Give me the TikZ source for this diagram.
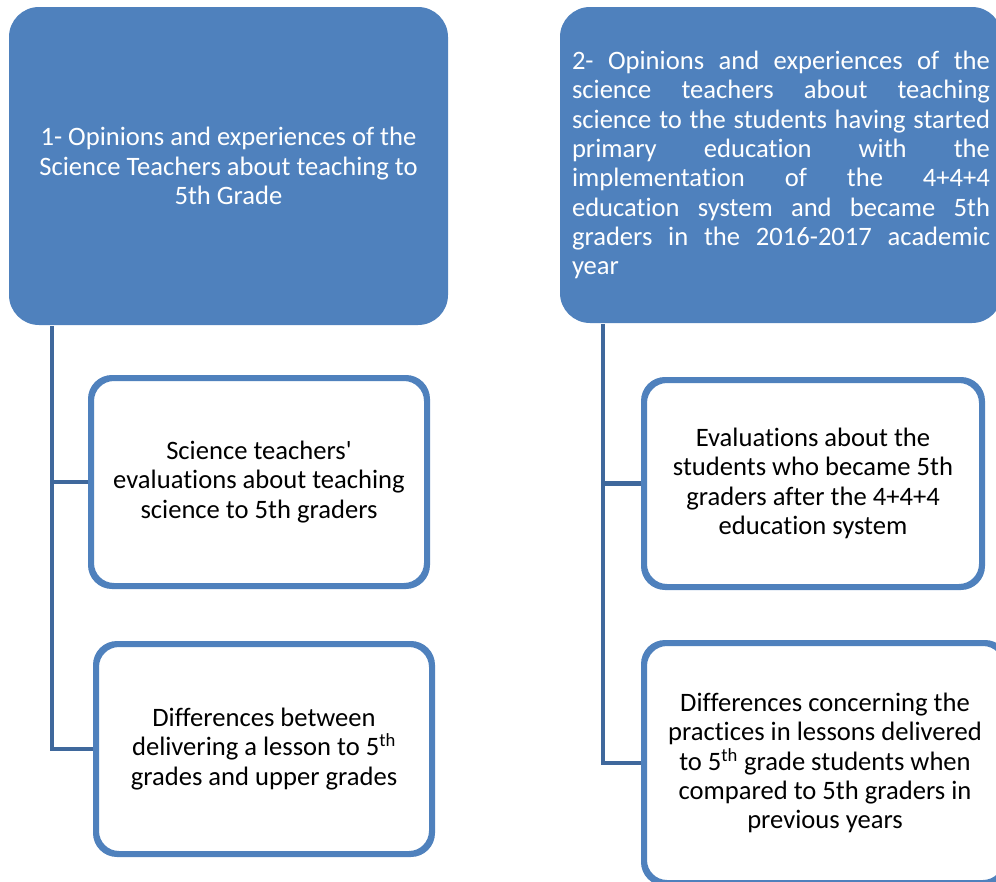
\documentclass[tikz,border=0pt]{standalone}
\usepackage{fontspec}
\setmainfont[Ligatures={NoCommon}]{Carlito}
\definecolor{accent}{HTML}{4F81BD}
\definecolor{connc}{HTML}{3F689C}
\newcommand{\jline}[1]{\leavevmode\hbox to 418pt{#1}}
\begin{document}
\begin{tikzpicture}[x=1pt,y=-1pt,
  bodyfont/.style={font=\fontsize{26.6}{29.3}\selectfont},
  topbox/.style={fill=accent, rounded corners=30pt, text=white, inner sep=0pt, bodyfont},
  childbox/.style={draw=accent, line width=4pt, fill=white, rounded corners=22pt, inner sep=0pt, text=black, align=center, bodyfont},
  conn/.style={draw=connc, line width=4.5pt}]
\clip (0,0) rectangle (996,881);
% top boxes
\node[topbox, minimum width=439pt, minimum height=318pt, align=center] (t1) at (228.5,166)
  {1- Opinions and experiences of the\\Science Teachers about teaching to\\5th Grade};
\node[topbox, minimum width=442pt, minimum height=316pt, text width=418pt, align=left] (t2) at (781,165)
  {\jline{2-\hfill Opinions\hfill and\hfill experiences\hfill of\hfill the}\\
   \jline{science\hfill teachers\hfill about\hfill teaching}\\
   \jline{science\hfill to\hfill the\hfill students\hfill having\hfill started}\\
   \jline{primary\hfill education\hfill with\hfill the}\\
   \jline{implementation\hfill of\hfill the\hfill 4+4+4}\\
   \jline{education\hfill system\hfill and\hfill became\hfill 5th}\\
   \jline{graders\hfill in\hfill the\hfill 2016-2017\hfill academic}\\
   year};
% spine coordinates
\coordinate (sL) at (52,326);
\coordinate (sR) at (603,324);
% child boxes
\node[childbox, minimum width=334pt, minimum height=206pt] (c1) at (259,482)
  {Science teachers\textquotesingle\\evaluations about teaching\\science to 5th graders};
\node[childbox, minimum width=334pt, minimum height=208pt] (c2) at (264,749)
  {Differences between\\delivering a lesson to 5\textsuperscript{th}\\grades and upper grades};
\node[childbox, minimum width=336pt, minimum height=205pt] (c3) at (813,483.5)
  {Evaluations about the\\students who became 5th\\graders after the 4+4+4\\education system};
\node[childbox, minimum width=360pt, minimum height=238pt] (c4) at (825,763)
  {Differences concerning the\\practices in lessons delivered\\to 5\textsuperscript{th} grade students when\\compared to 5th graders in\\previous years};
% connectors
\draw[conn] (sL) |- (c2.west);
\draw[conn] (sL) |- (c1.west);
\draw[conn] (sR) |- (c4.west);
\draw[conn] (sR) |- (c3.west);
% redraw child borders on top of connector ends
\foreach \n in {c1,c2,c3,c4} {
  \draw[accent, line width=4pt, rounded corners=22pt] (\n.north west) rectangle (\n.south east);
}
\end{tikzpicture}
\end{document}
